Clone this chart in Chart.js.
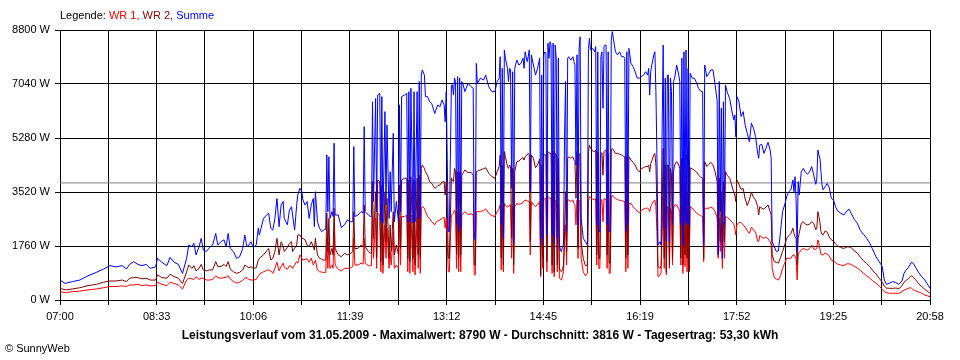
<!DOCTYPE html>
<html>
<head>
<meta charset="utf-8">
<title>Leistungsverlauf 31.05.2009</title>
<script src="https://cdn.jsdelivr.net/npm/chart.js@4"></script>
<style>
  body { margin: 0; background: #fff; }
  #wrap { position: relative; width: 960px; height: 360px; font-family: "Liberation Sans", Arial, sans-serif; font-size: 11px; color: #000; }
  #legend { position: absolute; left: 60px; top: 9px; white-space: nowrap; }
  #summary { position: absolute; left: 0; width: 960px; top: 328px; text-align: center; font-weight: bold; font-size: 12px; white-space: nowrap; }
  #copy { position: absolute; left: 5px; top: 342px; }
  canvas { position: absolute; left: 0; top: 0; }
</style>
</head>
<body>
<div id="wrap">
  <canvas id="chart" width="960" height="360"></canvas>
  <div id="legend">Legende: <span style="color:#ff0000">WR 1,</span> <span style="color:#800000">WR 2,</span> <span style="color:#0000ff">Summe</span></div>
  <div id="summary">Leistungsverlauf vom 31.05.2009 - Maximalwert: 8790 W - Durchschnitt: 3816 W - Tagesertrag: 53,30 kWh</div>
  <div id="copy">&copy; SunnyWeb</div>
</div>
<script>
// ===== DATA (minutes after midnight, watts) =====
const start = 420;   // 07:00
const end = 1258;    // 20:58
const durchschnitt = 3816;
const timeLabels = ['07:00', '08:33', '10:06', '11:39', '13:12', '14:45', '16:19', '17:52', '19:25', '20:58'];
const yTicks = [0, 1760, 3520, 5280, 7040, 8800];

const minutes = [
  420, 425, 432, 439, 447, 455, 462, 468, 474, 480, 484, 487, 491, 495, 499, 503, 507, 512, 514, 518, 523, 526, 530, 534, 538,
  542, 544, 547, 549, 551, 554, 556, 558, 561, 564, 567, 570, 572, 575, 578, 580, 582, 584, 587, 590, 593, 596, 598, 600, 602, 604, 606, 609, 611, 612,
  616, 619, 621, 623, 625, 627, 629, 631, 633, 635, 636, 639, 641, 643, 644, 646, 648, 649, 651, 653, 654, 656, 658, 660,
  662, 664, 665, 666, 668, 670, 672, 674, 676, 677, 678, 679, 680, 682, 683, 684, 685, 688, 691, 694, 697, 700, 702, 703, 704, 707, 710, 712, 713, 714,
  717, 719, 720, 721, 722, 724, 725, 726, 728, 729, 730, 731, 733, 734, 735, 737, 738, 739, 741, 742, 744, 746, 747, 748, 749, 752, 754, 755, 756, 757,
  758, 760, 761, 762, 764, 765, 766, 767, 768, 769, 771, 772, 774, 776, 778, 781,
  782, 784, 786, 788, 790, 791, 792, 793, 794, 795, 796, 797, 798, 799, 800, 801, 802, 803, 804, 805, 806, 807, 808, 810, 813, 816, 818, 819, 820, 821,
  822, 825, 828, 830, 833, 836, 839, 841, 843, 844, 845, 846, 847, 848, 849, 851, 852, 853, 854, 855, 856, 857, 858, 860, 862, 864, 866, 867, 868, 870,
  871, 872, 873, 874, 876, 878, 880, 882, 883, 884, 885, 886, 887, 888, 889, 890, 891, 892, 893, 894, 895, 896, 897, 898, 899, 900, 901,
  902, 903, 904, 905, 906, 907, 908, 909, 910, 912, 914, 915, 916, 917, 918, 919, 920, 921, 922, 924, 926, 928, 929, 930, 931, 933, 935, 936, 937, 938,
  939, 940, 941, 942, 943, 944, 945, 946, 947, 948, 949, 950, 951, 952, 953, 955, 957, 959, 961, 963, 964, 965, 966, 967, 968, 970, 972, 974, 976, 978,
  980, 982, 984, 986, 987, 988, 989, 990, 992, 993, 994, 995, 996, 998, 999, 1000, 1001, 1002, 1003, 1004, 1005, 1006, 1007, 1008, 1009, 1010, 1011, 1012, 1014, 1016,
  1017, 1018, 1019, 1020, 1021,
  1022, 1023, 1024, 1025, 1026, 1027, 1029, 1031, 1033, 1035, 1037, 1039, 1040, 1041, 1043, 1045, 1047, 1049, 1051, 1053, 1054, 1055, 1056, 1057, 1058, 1059, 1060, 1061, 1063, 1065,
  1067, 1069, 1070, 1071, 1072, 1074, 1076, 1078, 1080, 1082, 1084, 1086, 1088, 1090, 1092, 1093, 1094, 1096, 1098, 1100, 1102, 1104, 1105, 1106, 1108, 1110, 1112, 1114, 1116, 1118,
  1120, 1122, 1124, 1126, 1127, 1128, 1129, 1130, 1131, 1132, 1134, 1136, 1138, 1140, 1142,
  1144, 1146, 1148, 1149, 1150, 1151, 1152, 1153, 1154, 1155, 1157, 1159, 1161, 1163, 1165, 1167, 1169, 1172, 1175, 1178, 1180, 1182, 1185, 1188, 1191, 1194, 1197, 1200, 1203, 1206,
  1209, 1212, 1214, 1216, 1219, 1222, 1225, 1228, 1231, 1233, 1235, 1237, 1239, 1240, 1242, 1244, 1247, 1250, 1253, 1256, 1258
];

const summe = [
  650, 540, 600, 650, 790, 900, 1010, 1120, 1080, 1120, 1010, 1160, 1250, 1160, 1120, 1160, 1030, 1080, 1360, 1230, 1120, 1390, 1230, 1160, 870,
  1360, 1790, 1740, 1850, 1470, 1740, 2010, 1630, 1580, 1710, 1790, 2170, 1790, 1900, 1960, 1740, 2170, 1680, 1580, 1360, 1410, 1680, 2120, 1740, 1790, 1900, 1710, 1790, 2340, 2120,
  2660, 2770, 2830, 2340, 2280, 2660, 3310, 2390, 3100, 3210, 2660, 2450, 2930, 3040, 2770, 2280, 3100, 3420, 3640, 3530, 3260, 3100, 3210, 2660,
  3100, 3310, 2390, 3530, 2550, 2340, 2230, 2280, 2310, 4730, 2880, 4670, 2660, 2880, 2720, 5110, 2770, 2770, 2360, 2450, 2610, 2550, 2550, 5000, 2720, 2770, 2880, 2830, 5650, 2880,
  2770, 2720, 2720, 6460, 3210, 6570, 2880, 6680, 6740, 2550, 6630, 2500, 6140, 3100, 5700, 2660, 4180, 2880, 5430, 2550, 3210, 2550, 6360, 2880, 6630, 6680, 6740, 2550, 6790, 2550,
  6900, 2500, 6790, 2550, 6790, 2660, 7120, 2660, 7330, 7500, 7330, 6630, 6630, 6460, 6410, 6080,
  6190, 6360, 6300, 6520, 6360, 5810, 6790, 4620, 2230, 2230, 4620, 7010, 7010, 6680, 7230, 7120, 2450, 7280, 2230, 7230, 2340, 7120, 7060, 6790, 7060, 6950, 6900, 2010, 1960, 7710,
  7060, 7230, 7170, 7330, 6950, 6790, 6790, 7120, 7230, 7930, 2450, 7550, 2010, 8150, 7880, 7550, 7120, 7550, 7500, 3640, 7440, 1850, 7550, 7820, 7660, 7710, 7880, 7550, 8090, 7770,
  7930, 8150, 3530, 7990, 7660, 7330, 7550, 7880, 1790, 7330, 2010, 7990, 8090, 8040, 2120, 8370, 7880, 8420, 8310, 2120, 8370, 1850, 8310, 7880, 2010, 7880, 1790,
  1630, 1580, 1740, 1790, 5380, 7120, 2230, 7880, 7930, 7820, 7930, 7770, 7660, 4400, 7990, 2450, 8200, 8580, 2660, 2010, 1900, 1790, 8200, 8530, 8150, 8200, 8090, 8260, 2450, 8090,
  2230, 2230, 7930, 8090, 6250, 8260, 8310, 8310, 2450, 8090, 2230, 2230, 8470, 8750, 8530, 8090, 7990, 8090, 7930, 7930, 7880, 2230, 8090, 2450, 8200, 7710, 7610, 7440, 7230, 7230,
  7280, 7330, 7440, 7330, 7550, 6680, 7440, 7660, 7990, 8090, 6790, 4620, 1790, 1900, 1790, 5700, 8310, 2340, 7230, 1900, 7330, 7330, 1900, 7230, 6790, 2450, 7120, 7230, 7660, 7330,
  7120, 2450, 7880, 1790, 8090,
  2550, 8150, 2450, 7550, 2450, 7390, 7230, 7230, 7090, 6900, 6810, 6790, 1790, 7660, 7280, 7390, 7500, 7500, 7010, 6490, 1470, 7120, 2880, 6250, 1360, 6460, 2450, 7010, 6740, 6570,
  6190, 5870, 6030, 5320, 6630, 6460, 5980, 6140, 5700, 5430, 5160, 5760, 5600, 5320, 4780, 4620, 5050, 5070, 4780, 4940, 5140, 4890, 4620, 1900, 1740, 1580, 1600, 2230, 2880, 3100,
  3370, 3530, 3590, 3910, 3530, 4020, 3310, 1580, 3860, 3420, 4180, 4290, 4160, 4100, 4180,
  4350, 4070, 3770, 3970, 4890, 4730, 4620, 4180, 3750, 3590, 3690, 3800, 3660, 3310, 3260, 3040, 2900, 2830, 2770, 2910, 2960, 2830, 2630, 2500, 2260, 2140, 2010, 1850, 1630, 1410,
  1250, 1090, 650, 510, 550, 600, 570, 510, 620, 870, 980, 1050, 1160, 1230, 1190, 1070, 900, 760, 650, 490, 380
];

const wr2 = [
  380, 330, 360, 400, 470, 510, 580, 620, 620, 650, 600, 710, 730, 730, 690, 710, 650, 650, 820, 730, 710, 840, 760, 710, 540,
  920, 1140, 1030, 1120, 950, 1030, 1160, 980, 950, 980, 980, 1250, 1090, 1090, 1160, 1090, 1250, 1010, 920, 870, 900, 980, 1140, 1090, 1050, 1090, 1030, 1050, 1300, 1360,
  1470, 1600, 1680, 1300, 1360, 1580, 2010, 1470, 1900, 1740, 1580, 1710, 1850, 1900, 1580, 1680, 1790, 2120, 2120, 2010, 2010, 1960, 1790, 1740,
  1900, 1740, 1630, 2010, 1470, 1360, 1330, 1300, 1300, 2830, 1580, 2660, 1470, 1680, 1470, 2990, 1680, 1470, 1410, 1520, 1470, 1520, 1580, 2880, 1680, 1680, 1790, 1740, 3100, 1740,
  1580, 1520, 1520, 3860, 2010, 3530, 1360, 3910, 3860, 1250, 3750, 1140, 3530, 1900, 3310, 1360, 2450, 1580, 2880, 1470, 1790, 1470, 3750, 1680, 3910, 3970, 3970, 1360, 3910, 1250,
  4020, 1360, 3910, 1140, 3970, 1470, 4070, 1360, 4290, 4400, 4290, 4180, 4070, 3860, 3800, 3640,
  3660, 3730, 3750, 3840, 3860, 3420, 3860, 2990, 1360, 1360, 2660, 3970, 3910, 3860, 4290, 4180, 1470, 4180, 1360, 4180, 1470, 4070, 4130, 4240, 4150, 4160, 4070, 1140, 1140, 4180,
  4200, 4240, 4280, 4310, 4130, 4020, 3970, 4180, 4350, 4730, 1360, 4400, 1140, 4840, 4670, 4350, 4290, 4400, 4350, 2010, 4290, 1140, 4180, 4510, 4530, 4590, 4640, 4560, 4670, 4730,
  4780, 4730, 1900, 4730, 4620, 4310, 4400, 4600, 820, 4400, 1360, 4730, 4730, 4730, 1250, 4840, 4800, 4780, 4780, 1140, 4840, 920, 4780, 4730, 1140, 4620, 1030,
  950, 920, 1000, 1140, 2230, 3530, 1580, 4620, 4670, 4620, 4670, 4560, 4510, 3310, 4840, 1680, 4730, 4780, 1900, 1360, 1120, 1140, 4840, 5050, 4940, 4860, 4840, 4890, 1470, 4840,
  1360, 1360, 4780, 4800, 4070, 4840, 4880, 4890, 1470, 4780, 1200, 1200, 4890, 4940, 4890, 4780, 4780, 4750, 4730, 4670, 4670, 1360, 4670, 1470, 4670, 4560, 4490, 4400, 4240, 4180,
  4290, 4310, 4350, 4350, 4400, 4180, 4450, 4530, 4730, 4780, 4400, 2990, 1090, 1030, 1120, 2990, 4940, 1360, 4400, 920, 4400, 4400, 1140, 4290, 4070, 1360, 4180, 4400, 4510, 4400,
  4290, 1360, 4620, 1140, 4840,
  1470, 4730, 1360, 3530, 920, 4310, 4270, 4230, 4180, 4070, 4010, 3970, 1360, 4510, 4350, 4420, 4490, 4400, 4180, 3860, 1470, 3970, 1900, 3530, 1360, 3860, 1900, 4180, 4050, 3970,
  3750, 3500, 3420, 3210, 3910, 3770, 3600, 3640, 3290, 3080, 3260, 3510, 3340, 3260, 3040, 2770, 3040, 2990, 2960, 3030, 3100, 2880, 2770, 1470, 1250, 1230, 1200, 1380, 1580, 1790,
  2010, 2100, 2170, 2340, 2170, 2060, 2010, 1140, 2010, 2170, 2500, 2550, 2470, 2450, 2470,
  2550, 2500, 2290, 2340, 2880, 2720, 2530, 2230, 2140, 2120, 2250, 2210, 2050, 1960, 1920, 1830, 1760, 1710, 1680, 1730, 1730, 1710, 1600, 1530, 1390, 1280, 1180, 1090, 950, 850,
  710, 580, 450, 390, 380, 380, 390, 370, 460, 580, 640, 690, 750, 790, 740, 670, 530, 440, 350, 270, 220
];

const wr1 = [
  270, 240, 270, 290, 330, 360, 400, 440, 440, 460, 440, 490, 490, 510, 470, 490, 460, 470, 580, 510, 470, 580, 540, 490, 360,
  650, 710, 690, 670, 760, 670, 710, 710, 650, 650, 670, 790, 730, 710, 730, 740, 790, 690, 600, 550, 580, 640, 710, 730, 670, 650, 650, 670, 790, 840,
  920, 960, 980, 950, 870, 1030, 1230, 950, 1090, 1200, 1070, 1000, 1120, 1090, 1030, 1140, 1250, 1200, 1470, 1360, 1300, 1330, 1340, 1230,
  1360, 1140, 1200, 1300, 980, 920, 910, 900, 900, 2010, 1030, 1900, 1030, 1140, 1030, 2230, 1140, 1000, 950, 1030, 1030, 1050, 1090, 2010, 1140, 1140, 1200, 1170, 2010, 1200,
  1120, 1120, 1120, 2720, 1360, 2660, 1030, 2830, 2770, 920, 2660, 870, 2450, 1360, 2340, 1030, 1580, 1140, 2230, 1030, 1140, 1030, 2660, 1140, 2720, 2720, 2770, 920, 2720, 870,
  2770, 920, 2720, 820, 2720, 1030, 2880, 870, 2990, 3040, 2990, 2880, 2720, 2660, 2550, 2450,
  2530, 2580, 2610, 2660, 2700, 2340, 2660, 1900, 920, 920, 1900, 2770, 2790, 2830, 2930, 2880, 1030, 2880, 920, 2830, 920, 2770, 2800, 2880, 2790, 2810, 2770, 820, 820, 2880,
  2880, 2880, 2920, 2970, 2830, 2750, 2720, 2880, 2970, 3100, 980, 2990, 920, 3150, 3080, 3040, 3040, 3100, 3100, 1360, 3040, 870, 3040, 3150, 3120, 3130, 3180, 3210, 3260, 3230,
  3220, 3210, 1470, 3210, 3100, 3040, 3120, 3210, 760, 3100, 1030, 3260, 3310, 3310, 920, 3370, 3340, 3310, 3310, 870, 3310, 760, 3260, 3210, 920, 3100, 710,
  680, 650, 780, 920, 1900, 2450, 1140, 3260, 3260, 3210, 3260, 3150, 3100, 2450, 3260, 1360, 3210, 3260, 1360, 920, 790, 870, 3210, 3370, 3340, 3290, 3260, 3310, 1140, 3260,
  1030, 1030, 3260, 3260, 2550, 3310, 3290, 3260, 1030, 3260, 870, 870, 3310, 3420, 3370, 3310, 3270, 3250, 3240, 3210, 3210, 920, 3210, 1030, 3150, 3150, 3040, 2970, 2900, 2840,
  2920, 2960, 2990, 2990, 2970, 2880, 3040, 3120, 3230, 3260, 3040, 2230, 760, 820, 900, 2230, 3370, 1030, 3040, 820, 3040, 3040, 1030, 2990, 2880, 1140, 2990, 3100, 3100, 2970,
  2880, 1140, 3100, 870, 3100,
  1090, 2990, 920, 2450, 980, 3040, 2990, 2910, 2830, 2790, 2750, 2720, 1250, 2990, 2990, 2990, 3030, 2990, 2880, 2680, 1360, 2660, 1580, 2450, 1030, 2550, 1360, 2720, 2680, 2630,
  2550, 2470, 2340, 2120, 2450, 2530, 2530, 2450, 2370, 2260, 2170, 2370, 2280, 2210, 1920, 1900, 2100, 2050, 2010, 2060, 1990, 1900, 1790, 1030, 730, 680, 650, 790, 1030, 1200,
  1360, 1360, 1360, 1470, 1470, 1410, 1360, 650, 1470, 1550, 1630, 1680, 1650, 1630, 1680,
  1790, 1660, 1650, 1710, 1960, 1850, 1660, 1490, 1470, 1470, 1530, 1500, 1430, 1300, 1270, 1220, 1170, 1140, 1120, 1180, 1180, 1160, 1100, 1040, 960, 870, 790, 710, 620, 550,
  450, 350, 270, 240, 220, 220, 220, 220, 270, 320, 350, 380, 400, 390, 330, 300, 260, 220, 160, 130, 110
];

// ===== HELPERS =====
const pts = values => minutes.map((m, i) => ({ x: m, y: values[i] }));

// 18 grid intervals, a label on every second one
const xTicks = [];
for (let i = 0; i <= 18; i++) xTicks.push(start + i * (end - start) / 18);

Chart.defaults.font.family = '"Liberation Sans", Arial, sans-serif';
Chart.defaults.font.size = 11;
Chart.defaults.color = '#000';

// ===== CHART =====
// lower order is drawn on top: Summe over WR 2 over WR 1
new Chart(document.getElementById('chart'), {
  type: 'line',
  data: {
    datasets: [
      { label: 'WR 1', data: pts(wr1), borderColor: '#ff0000', order: 2 },
      { label: 'WR 2', data: pts(wr2), borderColor: '#800000', order: 1 },
      { label: 'Summe', data: pts(summe), borderColor: '#0000ff', order: 0 },
      { label: 'Durchschnitt', data: [{ x: start, y: durchschnitt }, { x: end, y: durchschnitt }], borderColor: '#808080', order: 3 }
    ]
  },
  options: {
    responsive: false,
    animation: false,
    events: [],
    layout: { padding: { left: 0, right: 30, top: 30, bottom: 0 } },
    elements: {
      point: { radius: 0 },
      line: { borderWidth: 1, tension: 0, fill: false }
    },
    plugins: { legend: { display: false }, tooltip: { enabled: false } },
    scales: {
      x: {
        type: 'linear',
        min: start,
        max: end,
        afterBuildTicks: scale => { scale.ticks = xTicks.map(v => ({ value: v })); },
        afterFit: scale => { scale.height = 60; },
        ticks: {
          autoSkip: false,
          maxRotation: 0,
          padding: 5,
          callback: (value, index) => index % 2 ? '' : timeLabels[index / 2]
        },
        grid: { color: '#000', tickLength: 5 },
        border: { color: '#000' }
      },
      y: {
        min: 0,
        max: 8800,
        afterBuildTicks: scale => { scale.ticks = yTicks.map(v => ({ value: v })); },
        afterFit: scale => { scale.width = 60; },
        ticks: { padding: 5, callback: v => v + ' W' },
        grid: { color: '#000', tickLength: 5 },
        border: { color: '#000' }
      }
    }
  }
});
</script>
</body>
</html>
